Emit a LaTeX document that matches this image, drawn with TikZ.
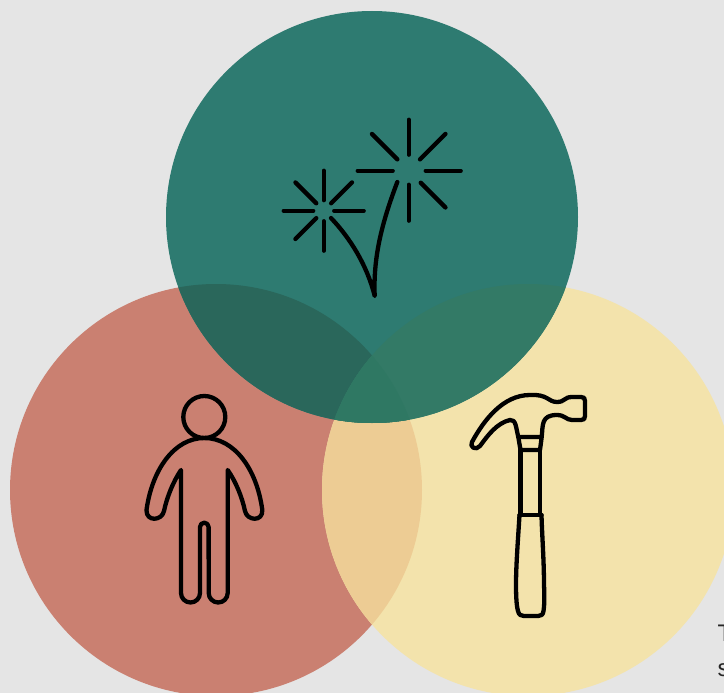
\documentclass[tikz,border=0pt]{standalone}
\usepackage{fontspec}
\setmainfont{Liberation Sans}
\definecolor{bggray}{HTML}{E5E5E5}
\definecolor{redc}{HTML}{CA8071}
\definecolor{yellowc}{HTML}{F3E3AC}
\definecolor{greenc}{HTML}{2E7B71}
\definecolor{redyellow}{HTML}{EDCC94}
\definecolor{redgreen}{HTML}{2A675B}
\definecolor{yellowgreen}{HTML}{337A66}
\definecolor{allthree}{HTML}{2F7863}
\definecolor{textc}{HTML}{262626}
\tikzset{icon/.style={line width=4.3pt,line cap=round,line join=round}}
\def\circleL{(216,490) circle (206pt)}
\def\circleR{(528,490) circle (206pt)}
\def\circleT{(372,217) circle (206pt)}
\begin{document}
\begin{tikzpicture}[x=1pt,y=-1pt,every node/.style={font=\fontsize{24}{28}\selectfont,text=textc,inner sep=0pt}]
  \useasboundingbox (0,0) rectangle (724,693);
  \clip (0,0) rectangle (724,693);
  \fill[bggray] (0,0) rectangle (724,693);
  % circles
  \fill[redc] \circleL;
  \fill[yellowc] \circleR;
  \fill[greenc] \circleT;
  \begin{scope}
    \clip \circleL;
    \fill[redyellow] \circleR;
    \fill[redgreen] \circleT;
    \clip \circleR;
    \fill[allthree] \circleT;
  \end{scope}
  \begin{scope}
    \clip \circleR;
    \fill[yellowgreen] \circleT;
    \clip \circleL;
    \fill[allthree] \circleT;
  \end{scope}
  % sparks
  \foreach \a/\rin/\rout in {0/17/52,45/16/52,90/16/51,135/16/52,180/16/51,270/14/50,315/17/52}
    \draw[icon] (408.7,170.7) ++(\a:\rin pt) -- ++(\a:\rout pt-\rin pt);
  \foreach \a in {0,45,90,135,180,225,270}
    \draw[icon] (323.7,210.7) ++(\a:10.5pt) -- ++(\a:29.5pt);
  \draw[icon] (331,218) .. controls (350,238) and (367,265) .. (374.7,296)
    .. controls (373,255) and (383,220) .. (397.3,182);
  % person
  \draw[icon] (204.3,417) circle (21pt);
  \draw[icon] (181,470) -- (181,593) arc[start angle=180,end angle=360,radius=9.5pt] -- (200,527)
    arc[start angle=180,end angle=0,radius=4.3pt] -- (208.7,593)
    arc[start angle=180,end angle=360,radius=9.5pt] -- (227.7,470)
    .. controls (236,482) and (242,497) .. (245,511)
    .. controls (247,521) and (263,522) .. (262.3,510)
    .. controls (257,470) and (235,438) .. (204.3,438)
    .. controls (174,438) and (152,470) .. (146.5,510)
    .. controls (146,522) and (162,521) .. (164,511)
    .. controls (167,497) and (173,482) .. (181,470) -- cycle;
  % hammer
  \draw[icon] (518.3,437) .. controls (516,428) and (516,419) .. (510,420)
    .. controls (497,423) and (488,435) .. (480,446)
    .. controls (476,451) and (469,447) .. (472,442)
    .. controls (484,420) and (503,395) .. (530,395)
    .. controls (548,394) and (548,402) .. (557,402)
    .. controls (565,402) and (564,397) .. (572,397)
    -- (581,397) .. controls (584,397) and (585,398) .. (585,401) -- (585,416)
    .. controls (585,419) and (584,420) .. (581,420) -- (572,420)
    .. controls (566,420) and (565,415) .. (557,415)
    .. controls (541,415) and (543,425) .. (541.7,437) -- cycle;
  \draw[icon] (518.3,437) -- (520.5,450) -- (540,450) -- (541.7,437);
  \draw[icon] (520.5,450) -- (520.5,515);
  \draw[icon] (540,450) -- (540,515);
  \draw[icon] (519.5,515) -- (541.5,515);
  \draw[icon] (519.5,515) .. controls (518,540) and (516,565) .. (516,585)
    .. controls (516,600) and (517,608) .. (518,611)
    .. controls (519,615) and (521,616) .. (524,616) -- (538,616)
    .. controls (541,616) and (543,615) .. (543.5,611)
    .. controls (544.5,605) and (544.5,595) .. (544,585)
    .. controls (544,560) and (542,535) .. (541.5,515);
  % cut off text
  \node[anchor=base west] (lineA) at (717.5,641) {T};
  \node[anchor=base west] (lineB) at (717.5,676) {s};
\end{tikzpicture}
\end{document}
